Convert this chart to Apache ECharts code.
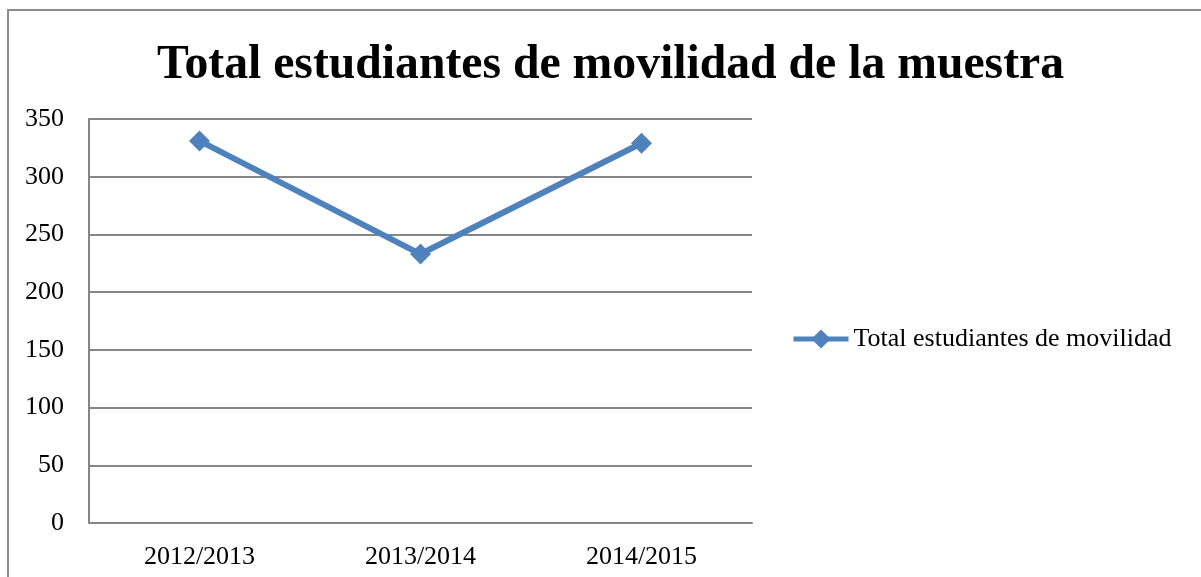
<!DOCTYPE html>
<html>
<head>
<meta charset="utf-8">
<script src="https://cdn.jsdelivr.net/npm/echarts@6/dist/echarts.min.js"></script>
<style>
  html, body { margin: 0; padding: 0; background: #fff; }
  #chart { width: 1201px; height: 577px; }
</style>
</head>
<body>
<div id="chart"></div>
<script>
var categories = ['2012/2013', '2013/2014', '2014/2015'];
var movilidad = [331, 233, 329];
var seriesName = 'Total estudiantes de movilidad';
var titleText = 'Total estudiantes de movilidad de la muestra';

var myChart = echarts.init(document.getElementById('chart'));
var serif = '"Liberation Serif", "Times New Roman", serif';
var option = {
    animation: false,
    title: {
        text: titleText,
        left: 152,
        top: 37,
        textStyle: {fontFamily: serif, fontSize: 47.7, fontWeight: 'bold', color: '#000'}
    },
    legend: {
        data: [seriesName],
        orient: 'vertical',
        left: 786,
        top: 321,
        itemWidth: 55,
        itemHeight: 24,
        lineStyle: {width: 5},
        textStyle: {fontFamily: serif, fontSize: 26, color: '#000'}
    },
    graphic: [{
        type: 'rect',
        shape: {x: 8, y: 10, width: 1400, height: 800},
        style: {fill: 'none', stroke: '#8c8c8c', lineWidth: 2},
        silent: true
    }],
    grid: {left: 89, right: 449, top: 119, bottom: 54},
    xAxis: {
        type: 'category',
        data: categories,
        boundaryGap: true,
        axisLine: {lineStyle: {color: '#868686', width: 2}},
        axisTick: {show: false},
        axisLabel: {fontFamily: serif, fontSize: 26, color: '#000', margin: 21}
    },
    yAxis: {
        type: 'value',
        min: 0,
        max: 350,
        interval: 50,
        axisLine: {show: true, lineStyle: {color: '#868686', width: 2}},
        axisTick: {show: false},
        splitLine: {lineStyle: {color: '#868686', width: 2}},
        axisLabel: {fontFamily: serif, fontSize: 26, color: '#000', margin: 25}
    },
    series: [{
        name: seriesName,
        type: 'line',
        data: movilidad,
        symbol: 'diamond',
        symbolSize: 21,
        lineStyle: {color: '#4F81BD', width: 6},
        itemStyle: {color: '#4F81BD'}
    }]
};
myChart.setOption(option);
</script>
</body>
</html>
